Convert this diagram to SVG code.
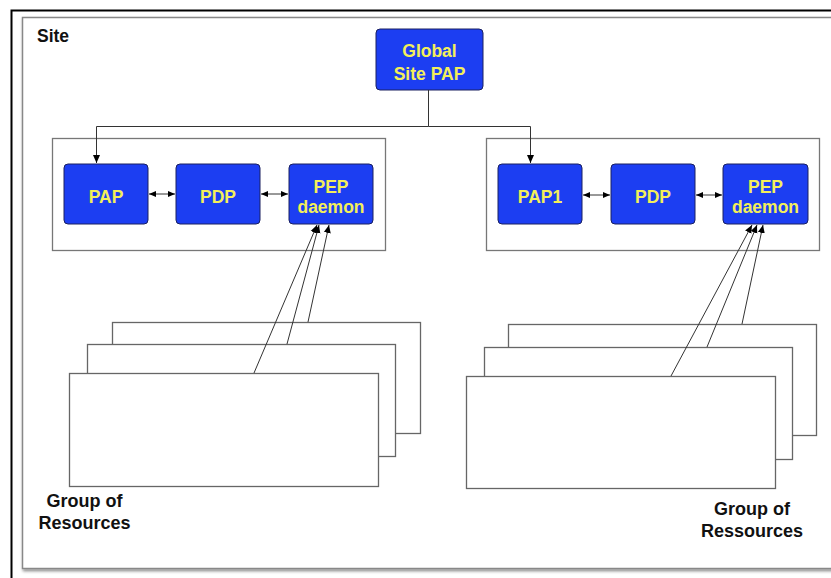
<svg xmlns="http://www.w3.org/2000/svg" width="831" height="578" viewBox="0 0 831 578">
<defs>
<marker id="ah" markerWidth="9" markerHeight="9" refX="8" refY="4.5" orient="auto" markerUnits="userSpaceOnUse">
<path d="M0,1 L8,4.5 L0,8 Z" fill="#000"/>
</marker>
<marker id="ahs" markerWidth="8" markerHeight="8" refX="7" refY="4" orient="auto-start-reverse" markerUnits="userSpaceOnUse">
<path d="M0,1 L7,4 L0,7 Z" fill="#000"/>
</marker>
<filter id="sh" x="-5%" y="-5%" width="110%" height="110%">
<feDropShadow dx="1" dy="2" stdDeviation="1.5" flood-color="#000" flood-opacity="0.45"/>
</filter>
</defs>
<style>
.node rect{fill:#1c3ef2;stroke:#1a2060;stroke-width:1;}
.node text{fill:#f3ef5a;font-family:"Liberation Sans",Arial,sans-serif;font-weight:bold;font-size:17.5px;text-anchor:middle;}
.cont{fill:#fff;stroke:#777;stroke-width:1.3;}
.res{fill:#fff;stroke:#666;stroke-width:1.3;}
.lbl{fill:#111;font-family:"Liberation Sans",Arial,sans-serif;font-weight:bold;font-size:18px;text-anchor:middle;}
.conn line,.conn path{stroke:#333;stroke-width:1;fill:none;}
</style>
<rect width="831" height="578" fill="#fff"/>
<!-- outer black frame -->
<path d="M11.5,578 L11.5,10.5 L831,10.5" fill="none" stroke="#000" stroke-width="2"/>
<!-- site frame -->
<rect x="22.5" y="17.5" width="830" height="551" fill="#fff" stroke="#888" stroke-width="1.5" filter="url(#sh)"/>
<text x="37" y="42" class="lbl" style="text-anchor:start;font-size:17.5px">Site</text>

<!-- containers -->
<g id="left-group">
<rect class="cont" x="52.5" y="138.5" width="333" height="112"/>
</g>
<g id="right-group">
<rect class="cont" x="486.5" y="138.5" width="333" height="112"/>
</g>

<!-- resource stacks -->
<g id="left-resources">
<rect class="res" x="112.5" y="322.5" width="308" height="111"/>
<rect class="res" x="87.5" y="344.5" width="308" height="112"/>
<rect class="res" x="69.5" y="373.5" width="309" height="113"/>
<text class="lbl" x="84.5" y="507">Group of</text>
<text class="lbl" x="84.5" y="529">Resources</text>
</g>
<g id="right-resources">
<rect class="res" x="508.5" y="324.5" width="308" height="111"/>
<rect class="res" x="484.5" y="347.5" width="308" height="112"/>
<rect class="res" x="466.5" y="376.5" width="309" height="112"/>
<text class="lbl" x="752" y="515">Group of</text>
<text class="lbl" x="752" y="537">Ressources</text>
</g>

<!-- nodes -->
<g id="global-site-pap" class="node">
<rect x="376" y="29" width="107" height="61" rx="4"/>
<text x="429.5" y="57">Global</text>
<text x="429.5" y="80">Site PAP</text>
</g>
<g id="pap-left" class="node">
<rect x="64" y="164" width="84" height="60" rx="4"/>
<text x="106" y="203">PAP</text>
</g>
<g id="pdp-left" class="node">
<rect x="176" y="164" width="84" height="60" rx="4"/>
<text x="218" y="203">PDP</text>
</g>
<g id="pep-left" class="node">
<rect x="289" y="164" width="84" height="60" rx="4"/>
<text x="331" y="193">PEP</text>
<text x="331" y="213">daemon</text>
</g>
<g id="pap1-right" class="node">
<rect x="498" y="164" width="84" height="60" rx="4"/>
<text x="540" y="203">PAP1</text>
</g>
<g id="pdp-right" class="node">
<rect x="611" y="164" width="84" height="60" rx="4"/>
<text x="653" y="203">PDP</text>
</g>
<g id="pep-right" class="node">
<rect x="723" y="164" width="85" height="60" rx="4"/>
<text x="765.5" y="193">PEP</text>
<text x="765.5" y="213">daemon</text>
</g>

<!-- connectors -->
<g id="connectors" class="conn">
<path d="M428.5,90 L428.5,126.5 L96.5,126.5 L96.5,163" marker-end="url(#ah)"/>
<path d="M428.5,126.5 L530.5,126.5 L530.5,163" marker-end="url(#ah)"/>
<line x1="149" y1="194" x2="175" y2="194" marker-start="url(#ahs)" marker-end="url(#ahs)"/>
<line x1="261" y1="194" x2="288" y2="194" marker-start="url(#ahs)" marker-end="url(#ahs)"/>
<line x1="583" y1="195" x2="610" y2="195" marker-start="url(#ahs)" marker-end="url(#ahs)"/>
<line x1="696" y1="195" x2="722" y2="195" marker-start="url(#ahs)" marker-end="url(#ahs)"/>
<line x1="254" y1="373" x2="317" y2="225" marker-end="url(#ah)"/>
<line x1="287" y1="344" x2="319" y2="225" marker-end="url(#ah)"/>
<line x1="308" y1="322" x2="329" y2="225" marker-end="url(#ah)"/>
<line x1="671" y1="376" x2="752" y2="225" marker-end="url(#ah)"/>
<line x1="707" y1="347" x2="757" y2="225" marker-end="url(#ah)"/>
<line x1="742" y1="324" x2="763" y2="225" marker-end="url(#ah)"/>
</g>
</svg>
